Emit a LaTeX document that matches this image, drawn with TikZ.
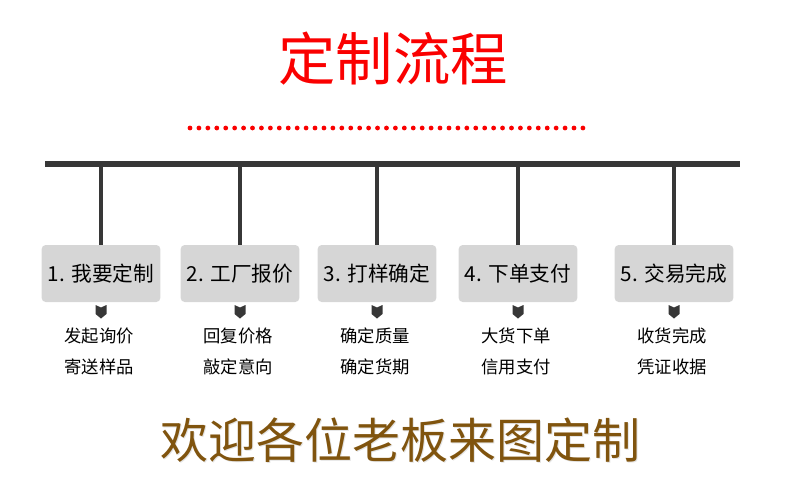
\documentclass[tikz,border=0pt]{standalone}
\usepackage{fontspec}
\newfontfamily\cjk{Noto Sans CJK SC}
\usetikzlibrary{positioning}
\definecolor{titlered}{RGB}{250,0,0}
\definecolor{bargray}{RGB}{55,55,55}
\definecolor{boxgray}{RGB}{214,214,214}
\definecolor{welcomebrown}{RGB}{128,84,14}
\definecolor{shadowgray}{RGB}{228,228,228}

\begin{document}
\begin{tikzpicture}[x=0.75pt, y=-0.75pt,
  stepbox/.style={fill=boxgray, rounded corners=3pt, inner sep=0pt,
    minimum width=89pt, minimum height=42.75pt,
    font=\cjk\fontsize{15.5}{18}\selectfont},
  subtext/.style={font=\cjk\fontsize{13}{15}\selectfont, align=center},
  marker/.style={fill=bargray}]
  \useasboundingbox (0,0) rectangle (800,497);
  % Title
  \node[font=\cjk\fontsize{43}{48}\selectfont, text=titlered] (title) at (393,59) {定制流程};
  % Dotted rule under the title
  \foreach \i in {0,...,44}
    \fill[titlered] (190+\i*8.93,128) circle[radius=1.8pt];
  % Main bar
  \coordinate (barL) at (45,164);
  \coordinate (barR) at (740,164);
  \draw[bargray, line width=3.8pt] (barL) -- (barR);
  % Steps: box, drop line, marker and two lines of notes
  \foreach \x/\n/\lbl/\a/\b in {101/s1/1. 我要定制/发起询价/寄送样品,
      240/s2/2. 工厂报价/回复价格/敲定意向,
      377/s3/3. 打样确定/确定质量/确定货期,
      518/s4/4. 下单支付/大货下单/信用支付,
      674/s5/5. 交易完成/收货完成/凭证收据} {
    \coordinate (top\n) at (\x,164);
    \node[stepbox] (\n) at (\x,273.5) {\lbl};
    \draw[bargray, line width=2.3pt] (top\n) -- (\n.north);
    \fill[marker] (\x-5.5,305) -- (\x,307.5) -- (\x+5.5,305) -- (\x+5.5,314)
      -- (\x,318.5) -- (\x-5.5,314) -- cycle;
    \node[subtext] (\n a) at (\x-2,336) {\a};
    \node[subtext] (\n b) at (\x-2,367) {\b};
  }
  % Welcome line with soft shadow
  \node[font=\cjk\fontsize{36}{40}\selectfont, text=shadowgray] (welcomeshadow) at (401.5,441.5) {欢迎各位老板来图定制};
  \node[font=\cjk\fontsize{36}{40}\selectfont, text=welcomebrown] (welcome) at (400,440) {欢迎各位老板来图定制};
\end{tikzpicture}
\end{document}
